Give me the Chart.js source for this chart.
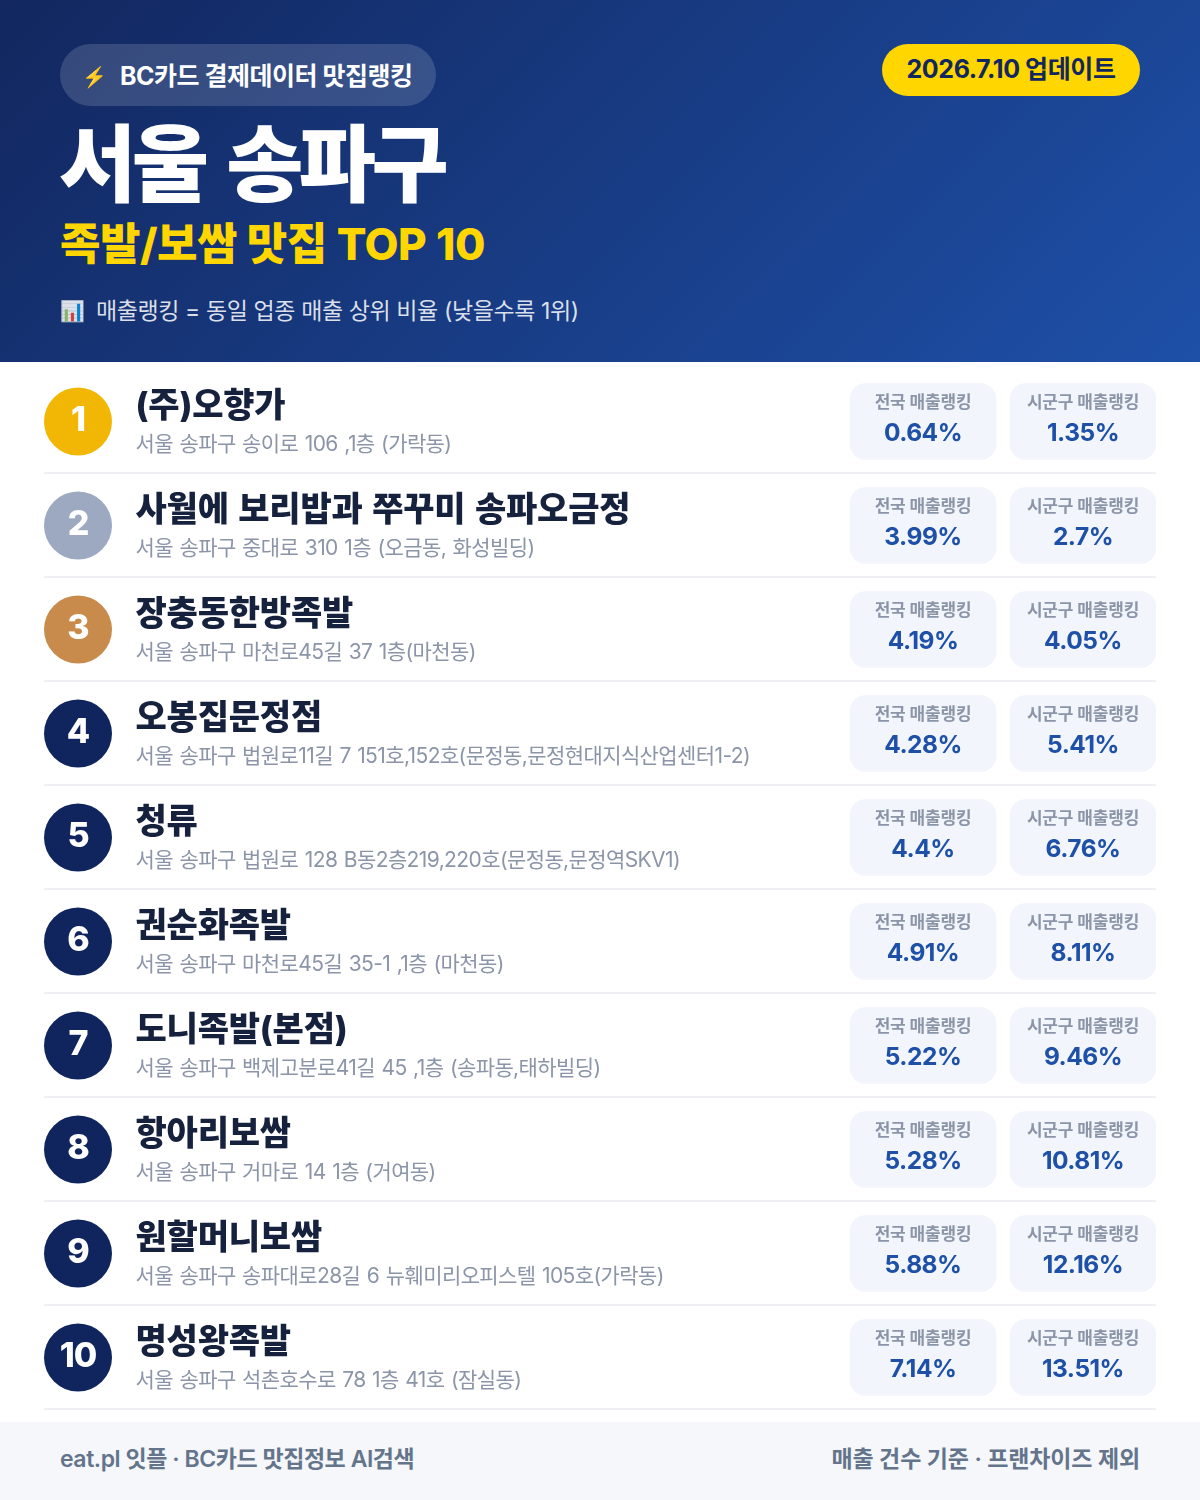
<!DOCTYPE html>
<html lang="ko">
<head>
<meta charset="utf-8">
<title>서울 송파구 족발/보쌈 맛집 TOP 10</title>
<script src="https://cdn.jsdelivr.net/npm/chart.js@4"></script>
<style>
  * { box-sizing: border-box; }
  html, body { margin: 0; padding: 0; background: #fff; }
  body { width: 1200px; height: 1500px; position: relative; overflow: hidden; font-family: Inter, "Noto Sans CJK KR", sans-serif; }
  header { position: absolute; left: 0; top: 0; width: 1200px; height: 362px; background: linear-gradient(135deg, #12275f 0%, #1e50a8 100%); }
  header div, footer div { position: absolute; white-space: nowrap; }
  .emoji { display: inline-block; width: 36px; font-size: 20px; vertical-align: 1px; }
  .badge { left: 60px; top: 44px; width: 376px; height: 62px; border-radius: 31px; background: rgba(255,255,255,.15); color: #fff; font-size: 25px; font-weight: 700; line-height: 64px; padding-left: 24px; letter-spacing: -.5px; }
  .badge .emoji { margin-left: -2px; width: 38px; }
  .update { left: 882px; top: 44px; width: 258px; height: 52px; border-radius: 26px; background: #ffd600; color: #12275f; font-size: 25px; font-weight: 700; line-height: 50px; text-align: center; letter-spacing: -.4px; }
  .title { left: 59px; top: 110px; color: #fff; font-size: 84px; font-weight: 800; line-height: 110px; letter-spacing: -4.6px; word-spacing: 8px; }
  .sub { left: 60px; top: 214px; color: #ffd600; font-size: 44px; font-weight: 800; line-height: 60px; letter-spacing: -.5px; word-spacing: .7px; }
  .note { left: 60px; top: 294px; color: rgba(255,255,255,.85); font-size: 23px; line-height: 34px; letter-spacing: -.4px; }
  #chart { position: absolute; left: 0; top: 362px; }
  footer { position: absolute; left: 0; top: 1422px; width: 1200px; height: 78px; background: #f5f7fb; color: #64748b; font-size: 23px; font-weight: 600; line-height: 74px; }
</style>
</head>
<body>
<header>
  <div class="badge"><span class="emoji">⚡</span>BC카드 결제데이터 맛집랭킹</div>
  <div class="update">2026.7.10 업데이트</div>
  <div class="title">서울 송파구</div>
  <div class="sub">족발/보쌈 맛집 TOP 10</div>
  <div class="note"><span class="emoji">📊</span>매출랭킹 = 동일 업종 매출 상위 비율 (낮을수록 1위)</div>
</header>
<canvas id="chart" width="1200" height="1060"></canvas>
<footer>
  <div style="left:60px;letter-spacing:-.45px">eat.pl 잇플 · BC카드 맛집정보 AI검색</div>
  <div style="right:60px;letter-spacing:-.15px">매출 건수 기준 · 프랜차이즈 제외</div>
</footer>
<script>
// Ranking data
const ranks = ['1', '2', '3', '4', '5', '6', '7', '8', '9', '10'];
const names = ['(주)오향가', '사월에 보리밥과 쭈꾸미 송파오금정', '장충동한방족발', '오봉집문정점', '청류', '권순화족발', '도니족발(본점)', '항아리보쌈', '원할머니보쌈', '명성왕족발'];
const addresses = [
    '서울 송파구 송이로 106 ,1층 (가락동)',
    '서울 송파구 중대로 310 1층 (오금동, 화성빌딩)',
    '서울 송파구 마천로45길 37 1층(마천동)',
    '서울 송파구 법원로11길 7 151호,152호(문정동,문정현대지식산업센터1-2)',
    '서울 송파구 법원로 128 B동2층219,220호(문정동,문정역SKV1)',
    '서울 송파구 마천로45길 35-1 ,1층 (마천동)',
    '서울 송파구 백제고분로41길 45 ,1층 (송파동,태하빌딩)',
    '서울 송파구 거마로 14 1층 (거여동)',
    '서울 송파구 송파대로28길 6 뉴훼미리오피스텔 105호(가락동)',
    '서울 송파구 석촌호수로 78 1층 41호 (잠실동)'
];
const nationalRank = [0.64, 3.99, 4.19, 4.28, 4.4, 4.91, 5.22, 5.28, 5.88, 7.14];
const districtRank = [1.35, 2.7, 4.05, 5.41, 6.76, 8.11, 9.46, 10.81, 12.16, 13.51];
const nationalLabel = '전국 매출랭킹';
const districtLabel = '시군구 매출랭킹';

// Columns on the x scale
const rankColumn = 78;
const textColumn = 136;
const nationalColumn = [850, 996];
const districtColumn = [1010, 1156];

const FONT = 'Inter, "Noto Sans CJK KR", sans-serif';
const circleColors = ranks.map((r, i) => ['#f2b705', '#9ca9c0', '#c98b4b'][i] || '#10245e');

function drawText(ctx, text, x, y, font, color, align, spacing, wordSpacing) {
    ctx.font = font + ' ' + FONT;
    ctx.fillStyle = color;
    ctx.textAlign = align || 'left';
    ctx.textBaseline = 'middle';
    ctx.letterSpacing = spacing || '0px';
    ctx.wordSpacing = wordSpacing || '0px';
    ctx.fillText(text, x, y);
}

// Row text goes on top of the marks
const rowText = {
    id: 'rowText',
    afterDatasetsDraw(chart) {
        const { ctx, scales: { x, y } } = chart;
        ctx.save();
        ranks.forEach((rank, i) => {
            const py = y.getPixelForValue(i);
            const natX = x.getPixelForValue((nationalColumn[0] + nationalColumn[1]) / 2);
            const disX = x.getPixelForValue((districtColumn[0] + districtColumn[1]) / 2);
            drawText(ctx, rank, x.getPixelForValue(rankColumn), py - 0.49, '800 34px', '#fff', 'center', '-1px');
            drawText(ctx, names[i], x.getPixelForValue(textColumn) - 0.5, py - 14.49, '800 34px', '#16213e', 'left', '-0.2px', '2.3px');
            drawText(ctx, addresses[i], x.getPixelForValue(textColumn) - 0.5, py + 23.51, '400 21px', '#8b95a7', 'left', '-0.6px', '1.2px');
            drawText(ctx, nationalLabel, natX, py - 18.49, '600 17px', '#8b95a7', 'center', '-0.2px');
            drawText(ctx, districtLabel, disX, py - 18.49, '600 17px', '#8b95a7', 'center', '-0.2px');
            drawText(ctx, nationalRank[i] + '%', natX, py + 12.51, '700 24.5px', '#1e50a8', 'center', '-0.5px');
            drawText(ctx, districtRank[i] + '%', disX, py + 12.51, '700 24.5px', '#1e50a8', 'center', '-0.5px');
        });
        ctx.restore();
    }
};

new Chart(document.getElementById('chart'), {
    type: 'bar',
    data: {
        labels: ranks,
        datasets: [
            {
                type: 'scatter',
                data: ranks.map(rank => ({ x: rankColumn, y: rank })),
                xAxisID: 'x',
                yAxisID: 'y',
                pointRadius: 34,
                pointHoverRadius: 34,
                pointBackgroundColor: circleColors,
                pointBorderWidth: 0,
                clip: false
            },
            {
                data: ranks.map(() => nationalColumn),
                xAxisID: 'x',
                yAxisID: 'y',
                backgroundColor: '#f2f5fc',
                borderRadius: 16,
                borderSkipped: false,
                barThickness: 76,
                grouped: false
            },
            {
                data: ranks.map(() => districtColumn),
                xAxisID: 'x',
                yAxisID: 'y',
                backgroundColor: '#f2f5fc',
                borderRadius: 16,
                borderSkipped: false,
                barThickness: 76,
                grouped: false
            }
        ]
    },
    options: {
        indexAxis: 'y',
        responsive: false,
        animation: false,
        events: [],
        layout: { autoPadding: false, padding: { left: 44, right: 44, top: 7.49, bottom: 12.51 } },
        plugins: { legend: { display: false }, tooltip: { enabled: false } },
        scales: {
            x: { type: 'linear', min: 44, max: 1156, display: false },
            y: {
                type: 'category',
                offset: true,
                afterFit(scale) { scale.width = 0; },
                ticks: { display: false },
                border: { display: false },
                grid: {
                    offset: true,
                    drawTicks: false,
                    lineWidth: 2,
                    color: ctx => ctx.index === 0 ? 'rgba(0,0,0,0)' : '#eef0f4'
                }
            }
        }
    },
    plugins: [rowText]
});
</script>
</body>
</html>
